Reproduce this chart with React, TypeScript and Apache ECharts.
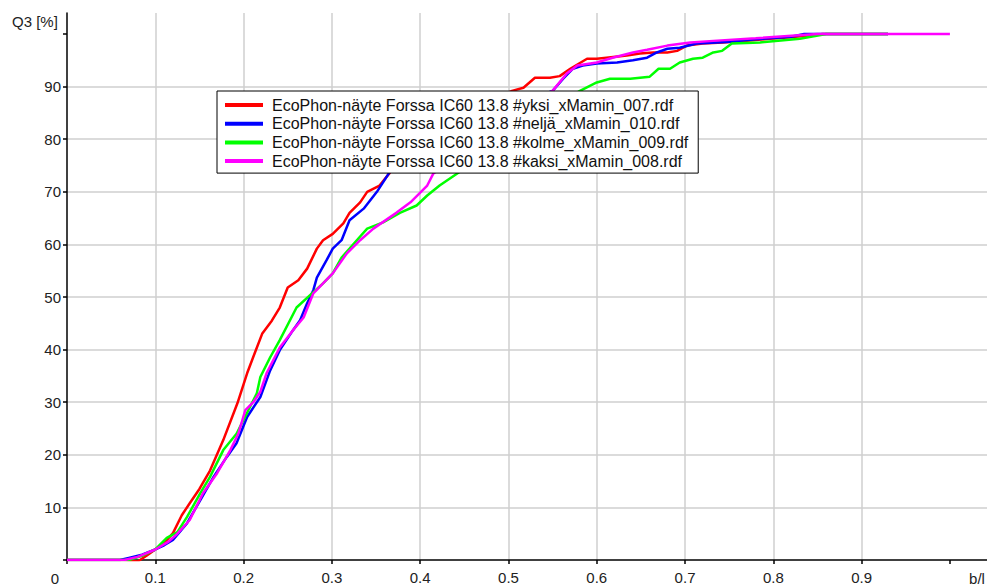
import React, { useEffect, useRef } from "react";
import * as echarts from "echarts";

const seriesNames = [
  "EcoPhon-näyte Forssa IC60 13.8 #yksi_xMamin_007.rdf",
  "EcoPhon-näyte Forssa IC60 13.8 #neljä_xMamin_010.rdf",
  "EcoPhon-näyte Forssa IC60 13.8 #kolme_xMamin_009.rdf",
  "EcoPhon-näyte Forssa IC60 13.8 #kaksi_xMamin_008.rdf",
];
const seriesColors = ["#ff0000", "#0000ff", "#00ff00", "#ff00ff"];

const yksi007 = [
  [0, 0], [0.065, 0], [0.08, -0.3], [0.09, 0.8], [0.1, 2], [0.11, 3.2], [0.12, 5.1], [0.13, 8.5],
  [0.139, 10.8], [0.15, 13.5], [0.162, 17], [0.177, 22.8], [0.193, 29.8], [0.204, 35.5], [0.213, 39.5],
  [0.221, 43], [0.232, 45.5], [0.241, 48], [0.25, 51.8], [0.262, 53.2], [0.272, 55.4], [0.283, 59.2],
  [0.29, 60.8], [0.301, 62], [0.313, 64], [0.32, 66], [0.332, 68], [0.34, 70], [0.354, 71.2],
  [0.366, 73.7], [0.4, 78], [0.45, 84], [0.49, 88], [0.504, 89.2], [0.517, 89.8], [0.53, 91.7],
  [0.547, 91.7], [0.558, 92], [0.57, 93.4], [0.589, 95.3], [0.6, 95.3], [0.611, 95.5], [0.634, 95.9],
  [0.649, 96.3], [0.664, 96.5], [0.68, 96.5], [0.691, 96.8], [0.702, 97.8], [0.72, 98.2], [0.743, 98.4],
  [0.77, 98.7], [0.796, 99.1], [0.82, 99.4], [0.856, 100], [0.93, 100],
];
const nelja010 = [
  [0, 0], [0.06, 0], [0.07, 0.4], [0.085, 1], [0.1, 2], [0.11, 2.8], [0.12, 3.8], [0.136, 7],
  [0.151, 11.4], [0.166, 15.8], [0.181, 19.6], [0.192, 22.2], [0.204, 27.2], [0.219, 31], [0.23, 36],
  [0.241, 39.9], [0.256, 43.7], [0.264, 45.6], [0.272, 48.8], [0.279, 51.3], [0.283, 53.7], [0.294, 57],
  [0.301, 59.2], [0.311, 60.8], [0.32, 64.6], [0.336, 66.8], [0.351, 70], [0.368, 74.4], [0.42, 80],
  [0.48, 85.5], [0.53, 88], [0.55, 89.2], [0.562, 91.5], [0.573, 93.4], [0.584, 94], [0.6, 94.4],
  [0.623, 94.6], [0.641, 95], [0.657, 95.5], [0.668, 96.5], [0.68, 97.2], [0.694, 97.4], [0.713, 98.2],
  [0.747, 98.5], [0.78, 99], [0.82, 99.5], [0.835, 100], [0.93, 100],
];
const kolme009 = [
  [0, 0], [0.07, 0], [0.085, 0.8], [0.1, 2], [0.113, 4.2], [0.125, 5.3], [0.136, 8.2], [0.151, 12.7],
  [0.162, 15.8], [0.177, 20.9], [0.192, 24], [0.204, 28], [0.215, 31.7], [0.219, 34.8], [0.23, 38.5],
  [0.241, 41.8], [0.26, 48], [0.275, 50.3], [0.29, 52.6], [0.301, 54.5], [0.311, 57.5], [0.32, 59.2],
  [0.332, 61.5], [0.34, 63], [0.358, 64.2], [0.377, 66], [0.396, 67.4], [0.408, 69.3], [0.422, 71.2],
  [0.442, 73.5], [0.5, 80], [0.55, 86], [0.581, 89.2], [0.6, 90.8], [0.615, 91.5], [0.638, 91.5],
  [0.66, 91.9], [0.67, 93.4], [0.683, 93.4], [0.694, 94.6], [0.709, 95.3], [0.72, 95.5], [0.732, 96.5],
  [0.742, 96.8], [0.753, 98.2], [0.785, 98.4], [0.83, 99.1], [0.86, 100], [0.93, 100],
];
const kaksi008 = [
  [0, 0], [0.065, 0], [0.08, 0.6], [0.1, 2], [0.115, 3.5], [0.125, 5], [0.139, 7.6], [0.154, 12.7],
  [0.17, 16.5], [0.185, 20.9], [0.194, 24], [0.202, 28.5], [0.211, 30], [0.219, 32], [0.226, 35.5],
  [0.241, 40.4], [0.256, 43.7], [0.268, 46.1], [0.279, 50.7], [0.29, 52.6], [0.301, 54.5], [0.317, 58.3],
  [0.332, 60.8], [0.347, 63], [0.373, 66], [0.389, 68], [0.408, 71.2], [0.415, 73.5], [0.46, 79],
  [0.51, 85], [0.55, 89.2], [0.566, 92.5], [0.578, 94], [0.6, 94.6], [0.618, 95.5], [0.641, 96.5],
  [0.657, 97], [0.68, 97.8], [0.706, 98.4], [0.732, 98.7], [0.78, 99.2], [0.85, 100], [1.0, 100],
];
const seriesData = [yksi007, nelja010, kolme009, kaksi008];

const xTicks = [0, 0.1, 0.2, 0.3, 0.4, 0.5, 0.6, 0.7, 0.8, 0.9, 1.0];
const xLabels = [0.1, 0.2, 0.3, 0.4, 0.5, 0.6, 0.7, 0.8, 0.9];
const yTicks = [0, 10, 20, 30, 40, 50, 60, 70, 80, 90, 100];
const yLabels = [10, 20, 30, 40, 50, 60, 70, 80, 90];

const FONT = "'Liberation Sans', Arial, sans-serif";

export default function App() {
  const ref = useRef<HTMLDivElement>(null);
  useEffect(() => {
    document.body.style.margin = "0";
    const chart = echarts.init(ref.current!, null, { renderer: "svg" });
    chart.setOption({
      animation: false,
      backgroundColor: "#ffffff",
      textStyle: { fontFamily: FONT },
      grid: { left: 67, top: 13, right: 0, bottom: 27, containLabel: false },
      legend: {
        z: 50,
        orient: "vertical",
        left: 217,
        top: 91,
        icon: "rect",
        itemWidth: 38,
        itemHeight: 4,
        itemGap: 2.7,
        padding: [6, 10, 4, 8],
        backgroundColor: "#ffffff",
        borderColor: "#000000",
        borderWidth: 1,
        borderRadius: 0,
        selectedMode: false,
        textStyle: { fontSize: 16, color: "#111111", fontFamily: FONT, padding: [0, 0, 0, 4] },
        data: seriesNames,
      },
      xAxis: {
        type: "value",
        min: 0,
        max: 1.042,
        interval: 0.1,
        axisLine: { show: true, lineStyle: { color: "#000000", width: 1.5 } },
        axisTick: { show: true, length: 4, customValues: xTicks, lineStyle: { color: "#000000", width: 1.5 } },
        axisLabel: {
          customValues: xLabels,
          formatter: (v: number) => v.toFixed(1),
          fontSize: 15,
          color: "#222222",
          margin: 10,
          fontFamily: FONT,
        },
        splitLine: { show: true, showMinLine: false, showMaxLine: false, lineStyle: { color: "#cfcfcf", width: 1.5 } },
      },
      yAxis: {
        type: "value",
        min: 0,
        max: 104,
        interval: 10,
        axisLine: { show: true, lineStyle: { color: "#000000", width: 1.5 } },
        axisTick: { show: true, length: 4, customValues: yTicks, lineStyle: { color: "#000000", width: 1.5 } },
        axisLabel: { customValues: yLabels, fontSize: 15, color: "#222222", margin: 6, fontFamily: FONT },
        splitLine: { show: true, showMinLine: false, showMaxLine: false, lineStyle: { color: "#cfcfcf", width: 1.5 } },
      },
      graphic: [
        { type: "text", left: 12, top: 14, style: { text: "Q3 [%]", fontSize: 15, fill: "#222222", fontFamily: FONT } },
        { type: "text", x: 55, y: 578, style: { text: "0", fontSize: 15, fill: "#222222", fontFamily: FONT, align: "center", verticalAlign: "middle" } },
        { type: "text", x: 977, y: 578, style: { text: "b/l", fontSize: 15, fill: "#222222", fontFamily: FONT, align: "center", verticalAlign: "middle" } },
      ],
      series: seriesNames.map((name, i) => ({
        name,
        type: "line",
        data: seriesData[i],
        showSymbol: false,
        symbol: "none",
        color: seriesColors[i],
        lineStyle: { color: seriesColors[i], width: 2.5 },
        z: 2,
      })),
    });
    return () => chart.dispose();
  }, []);
  return <div ref={ref} style={{ position: "absolute", left: 0, top: 0, width: 987, height: 587 }} />;
}
